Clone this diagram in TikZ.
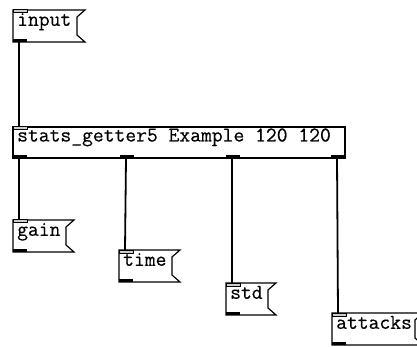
\documentclass[tikz,border=0pt]{standalone}
\usepackage{fontspec}
\newfontfamily\pdfont[FakeBold=0.4]{Latin Modern Mono}
\begin{document}
\begin{tikzpicture}[x=1pt,y=-1pt,
  txt/.style={anchor=base west,inner sep=0pt,font=\pdfont\fontsize{21}{24}\selectfont},
  frame/.style={draw=black,line width=1.2pt,line join=miter},
  inlet/.style={draw=black,line width=1pt,fill=gray!40},
  outlet/.style={fill=black},
  wire/.style={draw=black,line width=1.8pt}]
\useasboundingbox (0,0) rectangle (417,347);
\fill[white] (0,0) rectangle (417,347);
% message box: name, x1, y1, inner x2, y2, text
\newcommand\pdmsg[6]{%
  \draw[frame] (#2,#3) -- (#4+8,#3) -- (#4,#3+7) -- (#4,#5-7) -- (#4+8,#5) -- (#2,#5) -- cycle;
  \draw[inlet] (#2,#3) rectangle (#2+14,#3+3);
  \fill[outlet] (#2,#5-3) rectangle (#2+14,#5);
  \node[txt] (#1) at (#2+4,#3+15.8) {#6};
  \coordinate (#1-in) at (#2+6,#3);
  \coordinate (#1-out) at (#2+6,#5);
}
\pdmsg{input}{13}{10}{77}{42}{input}
\pdmsg{gain}{13}{220}{66}{252}{gain}
\pdmsg{time}{119}{250}{172}{282}{time}
\pdmsg{std}{226}{283}{268}{315}{std}
\pdmsg{attacks}{332}{313}{415}{345}{attacks}
% object box
\draw[frame] (13,127) rectangle (345,158);
\draw[inlet] (13,127) rectangle (27,130);
\node[txt] (stats) at (17,141.5) {stats\_getter5 Example 120 120};
\coordinate (stats-in) at (19,127);
\foreach \n/\x in {1/13,2/120,3/226,4/331}{
  \fill[outlet] (\x,155) rectangle (\x+14,158);
  \coordinate (stats-out\n) at (\x+6,158);
}
\draw[wire] (input-out) -- (stats-in);
\draw[wire] (stats-out1) -- (gain-in);
\draw[wire] (stats-out2) -- (time-in);
\draw[wire] (stats-out3) -- (std-in);
\draw[wire] (stats-out4) -- (attacks-in);
\end{tikzpicture}
\end{document}
